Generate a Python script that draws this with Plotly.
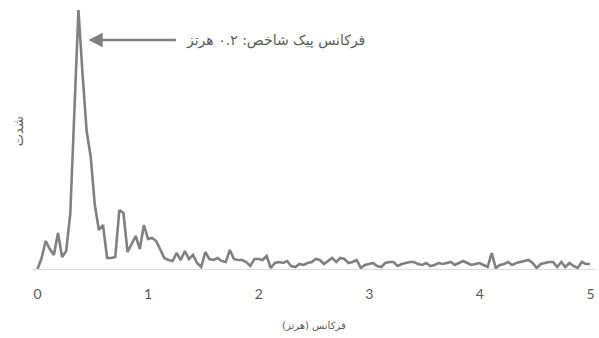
import numpy as np
import plotly.graph_objects as go

# Spectrum sampled on a uniform frequency grid (Hz)
freq_step = 0.037
intensity = [
    0, 11, 28, 20, 14, 36, 12, 18, 55, 150,
    259, 195, 138, 112, 64, 39, 44, 11, 11, 12,
    59, 56, 17, 25, 33, 20, 44, 30, 31, 28,
    19, 11, 9, 8, 16, 9, 18, 10, 14, 6,
    2, 17, 10, 9, 11, 8, 7, 19, 10, 9,
    9, 7, 3, 10, 10, 9, 13, 1, 6, 7,
    6, 8, 3, 2, 5, 4, 6, 7, 10, 9,
    5, 8, 11, 7, 11, 10, 6, 7, 9, 1,
    4, 5, 6, 3, 2, 6, 7, 7, 3, 5,
    6, 7, 7, 5, 4, 6, 3, 4, 6, 5,
    6, 7, 4, 6, 8, 6, 4, 5, 6, 4,
    2, 16, 1, 4, 5, 7, 4, 6, 7, 8,
    9, 6, 1, 5, 6, 7, 7, 2, 7, 2,
    6, 3, 1, 7, 5, 5,
]
freq = np.round(np.arange(len(intensity)) * freq_step, 3)

x_ticks = [0, 1, 2, 3, 4, 5]
x_title = "فرکانس (هرتز)"
y_title = "شدت"
peak_note = "فرکانس پیک شاخص: ۰.۲ هرتز"

line_color = "#808080"
text_color = "#595959"
fa_font = "DejaVu Sans"

peak_i = int(np.argmax(intensity))

fig = go.Figure()
fig.add_trace(go.Scatter(
    x=freq, y=intensity, mode="lines",
    line=dict(color=line_color, width=2.6),
    hoverinfo="skip", showlegend=False,
))

# arrow pointing at the dominant peak
arrow_y = intensity[peak_i] - 30
fig.add_annotation(
    x=freq[peak_i] + 0.09, y=arrow_y, xref="x", yref="y",
    ax=89, ay=0, axref="pixel", ayref="pixel",
    text="", showarrow=True, arrowhead=2, arrowsize=1.1,
    arrowwidth=2.6, arrowcolor=line_color,
)
fig.add_annotation(
    x=1.32, y=arrow_y, xref="x", yref="y",
    text=peak_note, showarrow=False,
    xanchor="left", yanchor="middle",
    font=dict(family=fa_font, size=14, color=text_color),
)

# axis titles
fig.add_annotation(
    x=0.5, y=-0.215, xref="paper", yref="paper",
    text=x_title, showarrow=False,
    xanchor="center", yanchor="middle",
    font=dict(family=fa_font, size=10, color=text_color),
)
fig.add_annotation(
    x=-0.024, y=0.53, xref="paper", yref="paper",
    text=y_title, showarrow=False, textangle=-90,
    xanchor="center", yanchor="middle",
    font=dict(family=fa_font, size=13, color=text_color),
)

fig.update_xaxes(
    range=[-0.05, 5.05], tickvals=x_ticks, ticktext=[str(t) for t in x_ticks],
    showgrid=False, zeroline=False, showline=True,
    linecolor="#d9d9d9", linewidth=1, ticks="",
    ticklabelstandoff=12,
    tickfont=dict(family="Lato", size=14, color=text_color),
)
fig.update_yaxes(
    range=[0, 261], showgrid=False, zeroline=False, showline=False,
    showticklabels=False, ticks="",
)

fig.update_layout(
    width=599, height=338,
    margin=dict(l=31.5, r=2.5, t=8, b=69),
    paper_bgcolor="white", plot_bgcolor="white",
)

fig.write_html("out.html")
